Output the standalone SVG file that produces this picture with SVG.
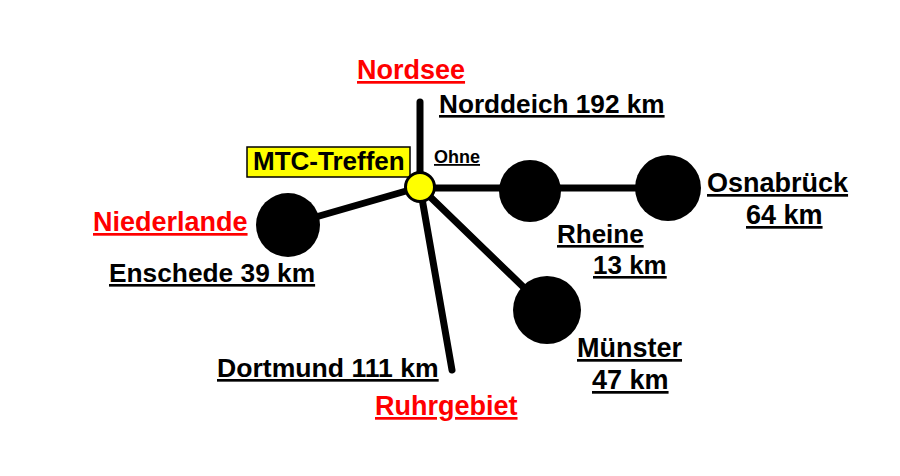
<svg xmlns="http://www.w3.org/2000/svg" width="900" height="476" viewBox="0 0 900 476">
<style>
text{font-family:"Liberation Sans",Arial,sans-serif;font-weight:bold;font-size:26px;text-decoration:underline;fill:#000}
.big{font-size:27px}
.red{fill:#ff0000}
.conn line{stroke:#000;stroke-width:7;stroke-linecap:round}
.stop{fill:#000}
</style>
<rect width="900" height="476" fill="#fff"/>
<g id="connectors" class="conn">
<line x1="420" y1="187" x2="420" y2="102"/>
<line x1="420" y1="188" x2="668" y2="188"/>
<line x1="420" y1="187" x2="288" y2="225"/>
<line x1="420" y1="187" x2="547" y2="310"/>
<line x1="420" y1="187" x2="452" y2="370"/>
</g>
<g id="nordsee"><text class="red big" x="357" y="79">Nordsee</text></g>
<g id="norddeich"><text x="439" y="113" style="font-size:26.2px">Norddeich 192 km</text></g>
<g id="mtc">
<rect x="247" y="147" width="163" height="30" fill="#ffff00" stroke="#000" stroke-width="1.5"/>
<text x="253" y="170" style="text-decoration:none">MTC-Treffen</text>
<circle cx="420" cy="187" r="14.5" fill="#ffff00" stroke="#000" stroke-width="3"/>
<text x="434" y="163" style="font-size:18px">Ohne</text>
</g>
<g id="rheine">
<circle class="stop" cx="530" cy="191" r="31"/>
<text x="557" y="243">Rheine</text>
<text x="593" y="274">13 km</text>
</g>
<g id="osnabrueck">
<circle class="stop" cx="668" cy="188" r="33"/>
<text class="big" x="707" y="192">Osnabrück</text>
<text class="big" x="746" y="224">64 km</text>
</g>
<g id="muenster">
<circle class="stop" cx="547" cy="310" r="34"/>
<text class="big" x="577" y="357">Münster</text>
<text class="big" x="592" y="389">47 km</text>
</g>
<g id="enschede">
<circle class="stop" cx="288" cy="225" r="32"/>
<text class="red big" x="93" y="231">Niederlande</text>
<text x="109" y="282" style="font-size:26.3px">Enschede 39 km</text>
</g>
<g id="dortmund">
<text x="217" y="377" style="font-size:26.6px">Dortmund 111 km</text>
<text class="red big" x="375" y="415">Ruhrgebiet</text>
</g>
</svg>
